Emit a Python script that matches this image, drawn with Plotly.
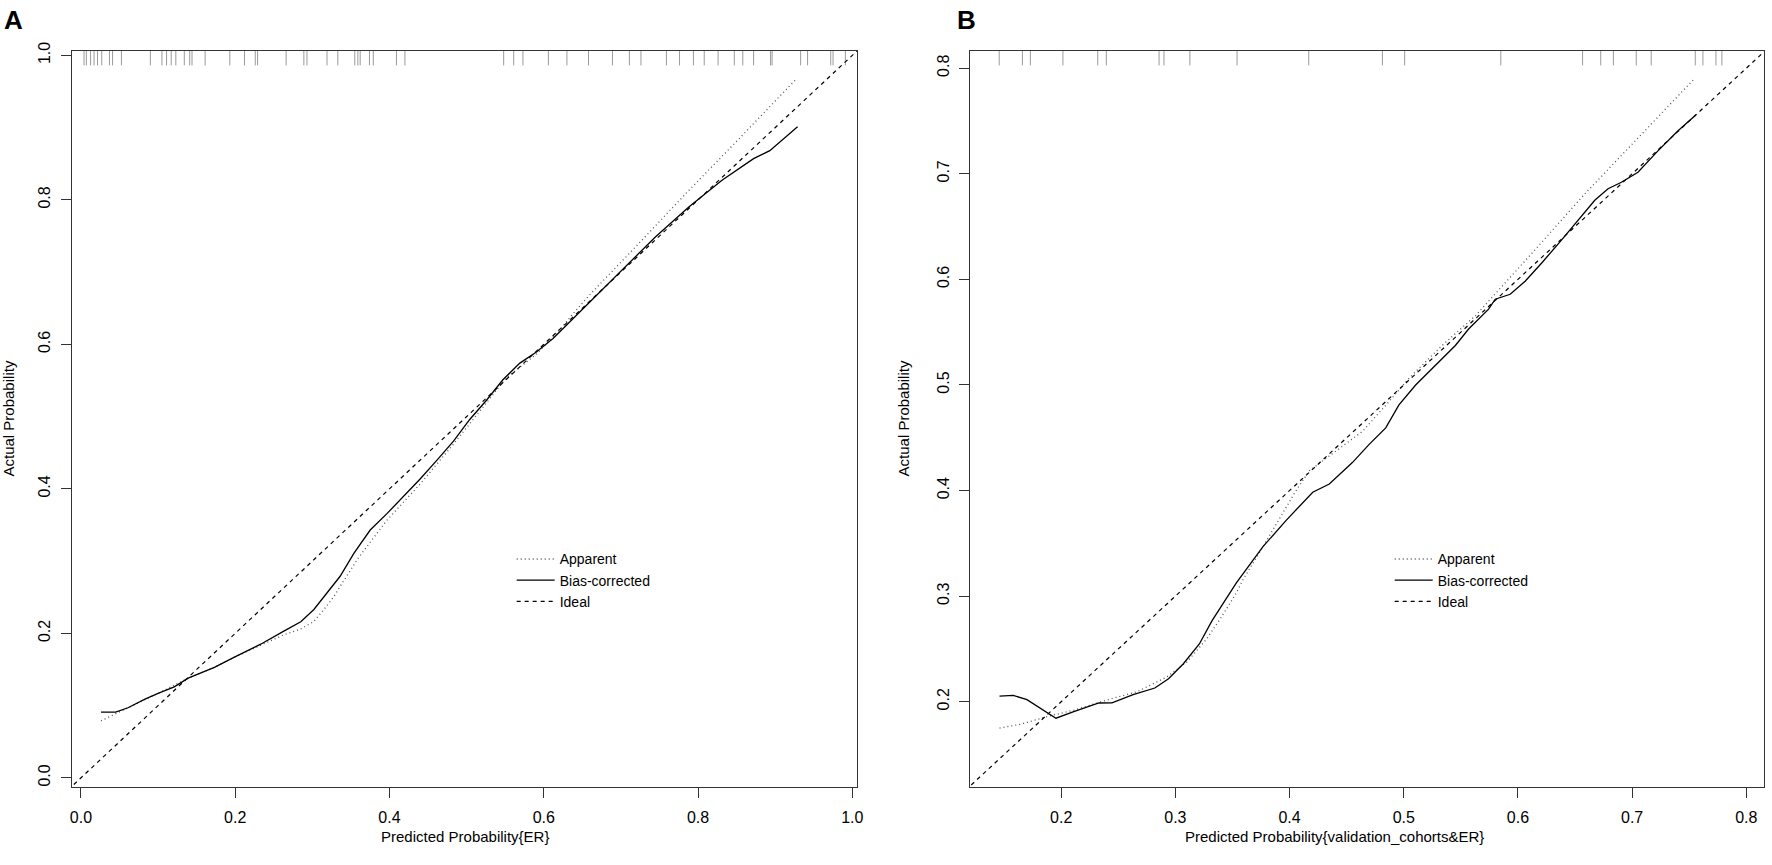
# Calibration curves (apparent / bias-corrected / ideal), two panels

import plotly.graph_objects as go

# Panel A: ER
a_rug = [0.004, 0.007, 0.0125, 0.017, 0.0215, 0.027, 0.037, 0.041, 0.0525, 0.090,
         0.105, 0.111, 0.117, 0.123, 0.134, 0.141, 0.144, 0.161, 0.193, 0.212,
         0.226, 0.229, 0.266, 0.289, 0.293, 0.319, 0.333, 0.355, 0.359, 0.362,
         0.374, 0.379, 0.409, 0.420, 0.548, 0.561, 0.573, 0.606, 0.630, 0.658,
         0.689, 0.711, 0.726, 0.759, 0.776, 0.794, 0.808, 0.826, 0.847, 0.858,
         0.872, 0.894, 0.896, 0.933, 0.942, 0.972, 0.975, 0.991]

a_app_x = [0.026, 0.044, 0.07, 0.100, 0.139, 0.173, 0.199, 0.233, 0.263, 0.285,
           0.302, 0.315, 0.328, 0.336, 0.36, 0.397, 0.440, 0.483, 0.526, 0.551,
           0.590, 0.620, 0.640, 0.659, 0.720, 0.788, 0.850, 0.928]
a_app_y = [0.079, 0.088, 0.101, 0.117, 0.138, 0.153, 0.167, 0.184, 0.198, 0.206,
           0.2165, 0.233, 0.251, 0.265, 0.305, 0.357, 0.407, 0.462, 0.519, 0.553,
           0.586, 0.619, 0.645, 0.668, 0.736, 0.813, 0.881, 0.968]

a_bc_x = [0.026, 0.045, 0.061, 0.083, 0.100, 0.121, 0.139, 0.173, 0.199, 0.233,
          0.263, 0.285, 0.302, 0.319, 0.336, 0.354, 0.375, 0.397, 0.418, 0.440,
          0.461, 0.483, 0.504, 0.526, 0.547, 0.569, 0.590, 0.612, 0.629, 0.659,
          0.702, 0.745, 0.788, 0.831, 0.872, 0.893, 0.929]
a_bc_y = [0.091, 0.091, 0.097, 0.109, 0.117, 0.126, 0.138, 0.153, 0.167, 0.185,
          0.203, 0.216, 0.233, 0.256, 0.279, 0.311, 0.343, 0.366, 0.389, 0.414,
          0.439, 0.466, 0.496, 0.523, 0.551, 0.574, 0.589, 0.608, 0.626, 0.658,
          0.704, 0.749, 0.790, 0.827, 0.857, 0.868, 0.901]

# Panel B: validation cohorts & ER
b_rug = [0.1457, 0.166, 0.173, 0.2015, 0.232, 0.2395, 0.2857, 0.290, 0.3127,
         0.354, 0.4168, 0.4813, 0.5008, 0.585, 0.6566, 0.6725, 0.6836, 0.7036,
         0.7167, 0.7553, 0.762, 0.7734, 0.7786]

b_app_x = [0.146, 0.1645, 0.1878, 0.211, 0.240, 0.2663, 0.2924, 0.310, 0.327,
           0.339, 0.3534, 0.3592, 0.3767, 0.3883, 0.4057, 0.4173, 0.4406, 0.4639,
           0.4871, 0.5045, 0.5336, 0.5627, 0.610, 0.6586, 0.7545]
b_app_y = [0.175, 0.1787, 0.186, 0.192, 0.2016, 0.2094, 0.2234, 0.2375, 0.259,
           0.278, 0.303, 0.3156, 0.3469, 0.3687, 0.400, 0.4187, 0.4374, 0.4561,
           0.4843, 0.5062, 0.5374, 0.5655, 0.622, 0.681, 0.790]

b_bc_x = [0.146, 0.158, 0.170, 0.182, 0.1954, 0.211, 0.233, 0.2445, 0.263, 0.282,
          0.294, 0.307, 0.321, 0.332, 0.3534, 0.3767, 0.397, 0.4203, 0.4348,
          0.455, 0.4697, 0.4842, 0.4958, 0.5104, 0.5278, 0.5452, 0.5568, 0.5743,
          0.5801, 0.5932, 0.6063, 0.6208, 0.6383, 0.6528, 0.6673, 0.6789, 0.6906,
          0.7051, 0.7226, 0.740, 0.756]
b_bc_y = [0.2053, 0.206, 0.202, 0.1937, 0.1844, 0.1906, 0.1988, 0.199, 0.2068,
          0.213, 0.2218, 0.236, 0.2547, 0.2766, 0.3125, 0.3469, 0.3718, 0.3984,
          0.4062, 0.4265, 0.4437, 0.4593, 0.4812, 0.500, 0.5187, 0.5374, 0.553,
          0.5718, 0.5812, 0.5859, 0.5983, 0.6155, 0.6374, 0.6561, 0.6749, 0.6858,
          0.692, 0.7014, 0.7217, 0.7405, 0.756]

ideal = [-0.1, 1.1]

# Layout in pixels (figure is 1772 x 865)
W, H = 1772, 865
top_px, bot_px = 42, 785.7
a_left, a_right = 70, 859.3
b_left, b_right = 972.7, 1770
a_range = [-0.012, 1.0066]
b_range_x = [0.1204, 0.8155]
b_range_y = [0.1197, 0.8167]
rug_px = 15

font = "Liberation Sans, Arial, sans-serif"
dot_style = dict(color="#555555", width=1.3, dash="1px,3px")
solid_style = dict(color="black", width=1.3)
dash_style = dict(color="black", width=1.2, dash="4px,4px")


def rug_xy(vals, yr):
    # short ticks hanging from the top of the box
    h = rug_px / (bot_px - top_px) * (yr[1] - yr[0])
    xs, ys = [], []
    for v in vals:
        xs += [v, v, None]
        ys += [yr[1], yr[1] - h, None]
    return xs, ys


fig = go.Figure()

panels = [
    ("x", "y", "legend", a_rug, a_app_x, a_app_y, a_bc_x, a_bc_y, a_range),
    ("x2", "y2", "legend2", b_rug, b_app_x, b_app_y, b_bc_x, b_bc_y, b_range_y),
]
for xa, ya, leg, rug, apx, apy, bcx, bcy, yr in panels:
    rx, ry = rug_xy(rug, yr)
    fig.add_trace(go.Scatter(x=rx, y=ry, mode="lines", xaxis=xa, yaxis=ya,
                             line=dict(color="#9a9a9a", width=1), showlegend=False,
                             hoverinfo="skip"))
    fig.add_trace(go.Scatter(x=apx, y=apy, mode="lines", name="Apparent",
                             xaxis=xa, yaxis=ya, line=dot_style, legend=leg))
    fig.add_trace(go.Scatter(x=bcx, y=bcy, mode="lines", name="Bias-corrected",
                             xaxis=xa, yaxis=ya, line=solid_style, legend=leg))
    fig.add_trace(go.Scatter(x=ideal, y=ideal, mode="lines", name="Ideal",
                             xaxis=xa, yaxis=ya, line=dash_style, legend=leg))

axis_common = dict(showgrid=False, zeroline=False, showline=True, mirror=True,
                   linecolor="#333333", linewidth=1.3, ticks="outside", ticklen=10,
                   tickwidth=1.2, tickcolor="#333333", tickformat=".1f",
                   tickfont=dict(family=font, size=16, color="black"))

legend_common = dict(xanchor="left", yanchor="top", bgcolor="rgba(0,0,0,0)",
                     font=dict(family=font, size=14, color="black"),
                     tracegroupgap=0, itemwidth=38)

fig.update_layout(
    width=W, height=H,
    margin=dict(l=0, r=0, t=0, b=0),
    paper_bgcolor="white", plot_bgcolor="white",
    font=dict(family=font, size=16, color="black"),
    xaxis=dict(domain=[a_left / W, a_right / W], range=a_range, tick0=0, dtick=0.2,
               ticklabelstandoff=6, **axis_common),
    yaxis=dict(domain=[1 - bot_px / H, 1 - top_px / H], range=a_range, tick0=0,
               dtick=0.2, tickangle=-90, ticklabelstandoff=4, **axis_common),
    xaxis2=dict(domain=[b_left / W, b_right / W], range=b_range_x, tick0=0,
                dtick=0.1, anchor="y2", ticklabelstandoff=6, **axis_common),
    yaxis2=dict(domain=[1 - bot_px / H, 1 - top_px / H], range=b_range_y, tick0=0,
                dtick=0.1, anchor="x2", tickangle=-90, ticklabelstandoff=4,
                **axis_common),
    legend=dict(x=512 / W, y=1 - 540 / H, **legend_common),
    legend2=dict(x=1394 / W, y=1 - 540 / H, **legend_common),
)

# axis titles and panel letters
a_mid = (a_left + a_right) / 2 / W
y_mid = 1 - (top_px + bot_px) / 2 / H
notes = [
    dict(x=a_mid, y=1 - 836 / H, text="Predicted Probability{ER}", textangle=0),
    dict(x=1339 / W, y=1 - 836 / H, text="Predicted Probability{validation_cohorts&ER}", textangle=0),
    dict(x=7 / W, y=y_mid, text="Actual Probability", textangle=-90),
    dict(x=906 / W, y=y_mid, text="Actual Probability", textangle=-90),
]
for n in notes:
    fig.add_annotation(xref="paper", yref="paper", showarrow=False,
                       xanchor="center", yanchor="middle",
                       font=dict(family=font, size=15, color="black"), **n)

for letter, px in [("A", 0), ("B", 957)]:
    fig.add_annotation(xref="paper", yref="paper", x=px / W, y=1 + 6 / H,
                       xanchor="left", yanchor="top", showarrow=False,
                       text=f"<b>{letter}</b>",
                       font=dict(family=font, size=26, color="black"))

# figure is sized to the window, so drop the page's default body margin
fig.write_html("out.html", config={"displayModeBar": False},
               post_script="document.body.style.margin='0';"
                           "document.body.style.overflow='hidden';")
